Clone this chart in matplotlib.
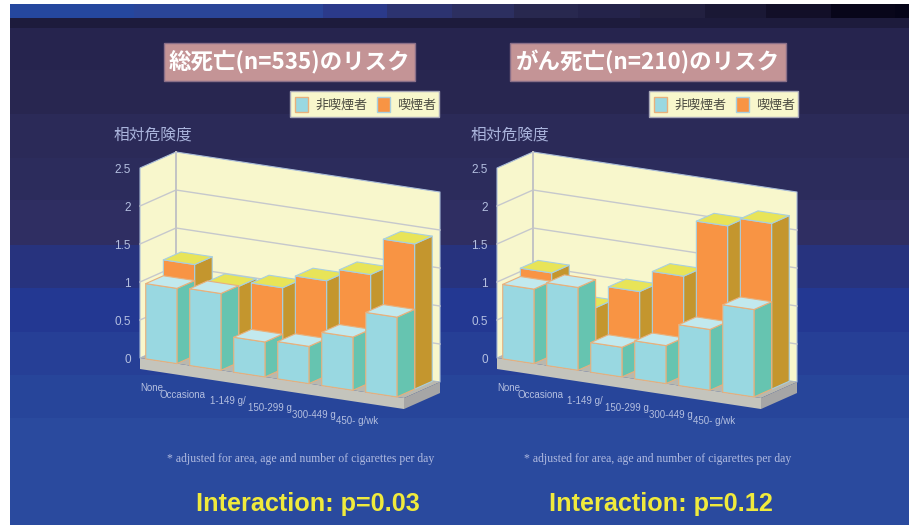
import matplotlib
matplotlib.use("Agg")
import matplotlib.pyplot as plt
from matplotlib.patches import Polygon, Rectangle

plt.rcParams['font.family'] = ['Noto Sans CJK JP', 'DejaVu Sans']

categories = ["None", "Occasiona", "1-149 g/", "150-299 g", "300-449 g", "450- g/wk"]
y_ticks = [0, 0.5, 1, 1.5, 2, 2.5]
y_tick_labels = ["0", "0.5", "1", "1.5", "2", "2.5"]

# relative risk, non smokers / smokers
total_non = [0.99, 1.01, 0.46, 0.49, 0.70, 1.05]
total_smk = [1.20, 1.00, 1.07, 1.25, 1.42, 1.91]
cancer_non = [0.98, 1.09, 0.39, 0.50, 0.80, 1.15]
cancer_smk = [1.09, 0.72, 1.02, 1.31, 2.06, 2.18]

title_total = "総死亡(n=535)のリスク"
title_cancer = "がん死亡(n=210)のリスク"
p_total = "Interaction: p=0.03"
p_cancer = "Interaction: p=0.12"
footnote = "* adjusted for area, age and number of cigarettes per day"
y_label = "相対危険度"
legend_labels = ["非喫煙者", "喫煙者"]

# oblique projection in pixels
STEP_X, STEP_Y = 44.0, 6.67
DEPTH_X, DEPTH_Y = 36.0, -16.0
UNIT = 76.0
BAR_W = 0.71
BAR_INSET = 0.13
ROW_D = 0.49

WALL = "#f8f7cc"
WALL_EDGE = "#a9bcd8"
GRID = "#c6c8cc"
BLUE = dict(front="#99d8e1", top="#c2e9ee", side="#66c4b0", edge="#e8b07c")
ORANGE = dict(front="#f89444", top="#e8e458", side="#c4962e", edge="#a8cfe0")

# background colour bands: (top, bottom, colour)
bands = [(18, 28, "#1d1b3c"), (28, 70, "#26244e"), (70, 114, "#282650"),
         (114, 158, "#2b2a58"), (158, 200, "#2c2c5c"), (200, 245, "#2f2e62"),
         (245, 288, "#27337e"), (288, 332, "#233892"), (332, 375, "#263f96"),
         (375, 418, "#27459a"), (418, 525, "#2a4a9e")]
strip_edges = [10, 134, 323, 387, 452, 514, 578, 640, 705, 766, 831, 895, 909]
strip_cols = ["#25479e", "#2a4598", "#2b3a8a", "#2c3370", "#2c2f60", "#28284f",
              "#24234a", "#222040", "#1a1835", "#120f28", "#08061a", "#050418"]

fig = plt.figure(figsize=(9.16, 5.25), dpi=100, facecolor="white")
ax = fig.add_axes([0, 0, 1, 1])
ax.set_xlim(0, 916)
ax.set_ylim(525, 0)
ax.axis("off")

for top, bottom, col in bands:
    ax.add_patch(Rectangle((10, top), 899, bottom - top, fc=col, ec="none"))
for i, col in enumerate(strip_cols):
    ax.add_patch(Rectangle((strip_edges[i], 4), strip_edges[i + 1] - strip_edges[i], 14,
                           fc=col, ec="none"))


def poly(pts, fc, ec="none", lw=0.8):
    ax.add_patch(Polygon(pts, closed=True, fc=fc, ec=ec, lw=lw, joinstyle="round"))


def draw_bar(pr, i, d0, value, c):
    u0, u1 = i + BAR_INSET, i + BAR_INSET + BAR_W
    d1 = d0 + ROW_D
    poly([pr(u1, d0, 0), pr(u1, d1, 0), pr(u1, d1, value), pr(u1, d0, value)], c["side"], c["edge"])
    poly([pr(u0, d0, 0), pr(u1, d0, 0), pr(u1, d0, value), pr(u0, d0, value)], c["front"], c["edge"])
    poly([pr(u0, d0, value), pr(u1, d0, value), pr(u1, d1, value), pr(u0, d1, value)], c["top"], c["edge"])


def draw_chart(ox, non, smk, title, title_box, p_text, p_x, legend_x):
    def pr(u, d, v):
        return (ox + u * STEP_X + d * DEPTH_X, 358 + u * STEP_Y + d * DEPTH_Y - v * UNIT)

    n = len(categories)
    top = y_ticks[-1]

    # walls and floor slab
    poly([pr(0, 0, 0), pr(0, 1, 0), pr(0, 1, top), pr(0, 0, top)], WALL, WALL_EDGE)
    poly([pr(0, 1, 0), pr(n, 1, 0), pr(n, 1, top), pr(0, 1, top)], WALL, WALL_EDGE)
    # lines stay on the patch layer so the bars cover them
    for t in y_ticks[1:-1]:
        ax.plot(*zip(pr(0, 0, t), pr(0, 1, t), pr(n, 1, t)), color=GRID, lw=1, zorder=1)
    ax.plot(*zip(pr(0, 1, 0), pr(0, 1, top)), color="#c4c4c4", lw=1.4, zorder=1)

    thick = 11 / UNIT
    poly([pr(0, 0, 0), pr(n, 0, 0), pr(n, 1, 0), pr(0, 1, 0)], "#b9b8ae")
    poly([pr(0, 0, 0), pr(n, 0, 0), pr(n, 0, -thick), pr(0, 0, -thick)], "#c4c4bc")
    poly([pr(n, 0, 0), pr(n, 1, 0), pr(n, 1, -thick), pr(n, 0, -thick)], "#a6a6a6")

    for i, v in enumerate(smk):
        draw_bar(pr, i, ROW_D, v, ORANGE)
    for i, v in enumerate(non):
        draw_bar(pr, i, 0, v, BLUE)

    for t, lab in zip(y_ticks, y_tick_labels):
        ax.text(ox - 9, 358 - t * UNIT + 2, lab, ha="right", va="center", fontsize=8.5,
                color="#b4bfe0", family="Liberation Sans")

    label_left = [0, 20, 70, 108, 152, 196]
    for i, lab in enumerate(categories):
        ax.text(ox + label_left[i], 388 + i * 6.7, lab, ha="left", va="center", fontsize=7,
                color="#b4bfe0", family="Liberation Sans")

    ax.text(ox - 26, 135, y_label, ha="left", va="center", fontsize=11.3, color="#aab4dc")
    ax.text(ox + 27, 459, footnote, ha="left", va="center", fontsize=8.5,
            color="#b0bae0", family="Liberation Serif")
    ax.text(p_x, 504, p_text, ha="left", va="center", fontsize=18.2, fontweight="bold",
            color="#f0ea3c", family="Liberation Sans")

    # title box
    x0, x1 = title_box
    ax.add_patch(Rectangle((x0, 43), x1 - x0, 38, fc="#c49496", ec="#8a6f88", lw=1))
    ax.text((x0 + x1) / 2, 62, title, ha="center", va="center", fontsize=16.2,
            fontweight="bold", color="white")

    # legend
    ax.add_patch(Rectangle((legend_x, 91), 149, 26, fc="#f8f7cc", ec="#a8a8b8", lw=1))
    ax.add_patch(Rectangle((legend_x + 5, 97), 13, 15, fc=BLUE["front"], ec=BLUE["edge"], lw=1))
    ax.add_patch(Rectangle((legend_x + 87, 97), 13, 15, fc=ORANGE["front"], ec=ORANGE["edge"], lw=1))
    ax.text(legend_x + 25, 105, legend_labels[0], ha="left", va="center", fontsize=9.4, color="#4a4a40")
    ax.text(legend_x + 107, 105, legend_labels[1], ha="left", va="center", fontsize=9.4, color="#4a4a40")


draw_chart(140, total_non, total_smk, title_total, (164, 415), p_total, 196, 290)
draw_chart(497, cancer_non, cancer_smk, title_cancer, (510, 786), p_cancer, 549, 649)

fig.savefig("out.png", dpi=100)
